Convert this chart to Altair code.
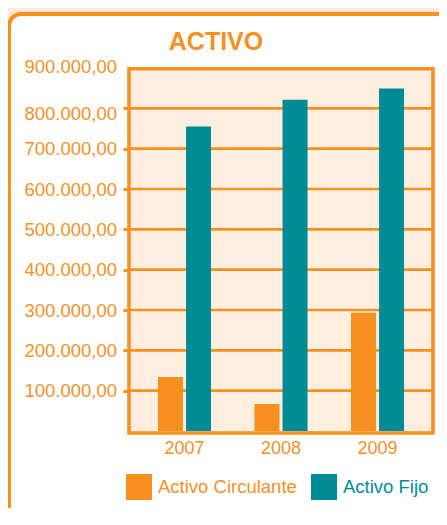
import altair as alt
import pandas as pd

# ---- data ----
title_text = ["ACTIVO"]
years = ["2007", "2008", "2009"]
series = ["Activo Circulante", "Activo Fijo"]
circulante = [134000, 67000, 293000]
fijo = [755000, 821000, 849000]
y_ticks = [100000, 200000, 300000, 400000, 500000, 600000, 700000, 800000, 900000]
grid_values = [100000, 200000, 300000, 400000, 500000, 600000, 700000, 800000]

ORANGE = "#F7901E"
TEAL = "#008C96"
PLOT_BG = "#FDEEDF"
PAGE_BG = "#FDEAD6"
FONT = "Liberation Sans"

rows = []
for i, yr in enumerate(years):
    rows.append({"year": yr, "serie": series[0], "valor": circulante[i]})
    rows.append({"year": yr, "serie": series[1], "valor": fijo[i]})
df = pd.DataFrame(rows)
grid_df = pd.DataFrame({"valor": grid_values})
deco = pd.DataFrame({"k": [0]})
title_df = pd.DataFrame({"t": title_text})

y_axis = alt.Axis(
    values=y_ticks,
    labelExpr="format(datum.value / 1000, 'd') + '.000,00'",
    title=None,
    domain=False,
    grid=False,
    ticks=True,
    tickSize=6,
    tickWidth=3,
    tickColor={"condition": {"test": "datum.value >= 900000", "value": "transparent"}, "value": ORANGE},
    labelColor=ORANGE,
    labelFont=FONT,
    labelFontSize=18.5,
    labelPadding=6.5,
    labelOffset={"condition": [{"test": "datum.value == 800000", "value": 5},
                               {"test": "datum.value == 900000", "value": -2}], "value": 0},
    zindex=1,
)
y_enc = alt.Y("valor:Q", scale=alt.Scale(domain=[0, 900000], nice=False, zero=True), axis=y_axis)

box = alt.Chart(deco).mark_rect(
    fill="white", stroke=ORANGE, strokeWidth=4, cornerRadius=12
).encode(x=alt.value(-120), x2=alt.value(330), y=alt.value(-54), y2=alt.value(454))

title = alt.Chart(title_df).mark_text(
    font=FONT, fontSize=25, fontWeight="bold", color=ORANGE,
    align="center", baseline="alphabetic",
).encode(text="t:N", x=alt.value(87), y=alt.value(-18))

plot_bg = alt.Chart(deco).mark_rect(fill=PLOT_BG).encode(
    x=alt.value(0), x2=alt.value("width"), y=alt.value(0), y2=alt.value(365)
)

grid = alt.Chart(grid_df).mark_rule(color=ORANGE, strokeWidth=2.6).encode(y=y_enc)

bars = alt.Chart(df).mark_bar().encode(
    x=alt.X(
        "year:N",
        sort=years,
        scale=alt.Scale(paddingInner=0.45, paddingOuter=0.3),
        axis=alt.Axis(
            title=None, domain=False, ticks=False, labelAngle=0,
            labelColor=ORANGE, labelFont=FONT, labelFontSize=18,
            labelPadding=8, zindex=1,
        ),
    ),
    xOffset=alt.XOffset("serie:N", sort=series, scale=alt.Scale(paddingInner=0.11, paddingOuter=0)),
    y=y_enc,
    color=alt.Color(
        "serie:N",
        sort=series,
        scale=alt.Scale(domain=series, range=[ORANGE, TEAL]),
        legend=alt.Legend(
            title=None, orient="none", legendX=-3, legendY=406,
            direction="horizontal", symbolType="square", symbolSize=676,
            symbolStrokeWidth=0, symbolOpacity=1,
            labelFont=FONT, labelFontSize=18.5,
            labelColor=alt.ExprRef("datum.value == 'Activo Fijo' ? '" + TEAL + "' : '" + ORANGE + "'"),
            labelOffset=6, columnPadding=14, padding=0, zindex=1,
        ),
    ),
)

frame = alt.Chart(deco).mark_rect(fill=None, stroke=ORANGE, strokeWidth=3.6).encode(
    x=alt.value(0), x2=alt.value("width"), y=alt.value(0.7), y2=alt.value(365)
)

chart = alt.layer(box, title, plot_bg, grid, bars, frame).properties(
    width=304,
    height=363,
    autosize=alt.AutoSizeParams(type="none"),
    padding={"left": 121, "top": 60, "right": 6, "bottom": 77},
    background=PAGE_BG,
).configure_view(strokeWidth=0)

chart.save("out.html", embed_options={"renderer": "svg", "actions": False})
